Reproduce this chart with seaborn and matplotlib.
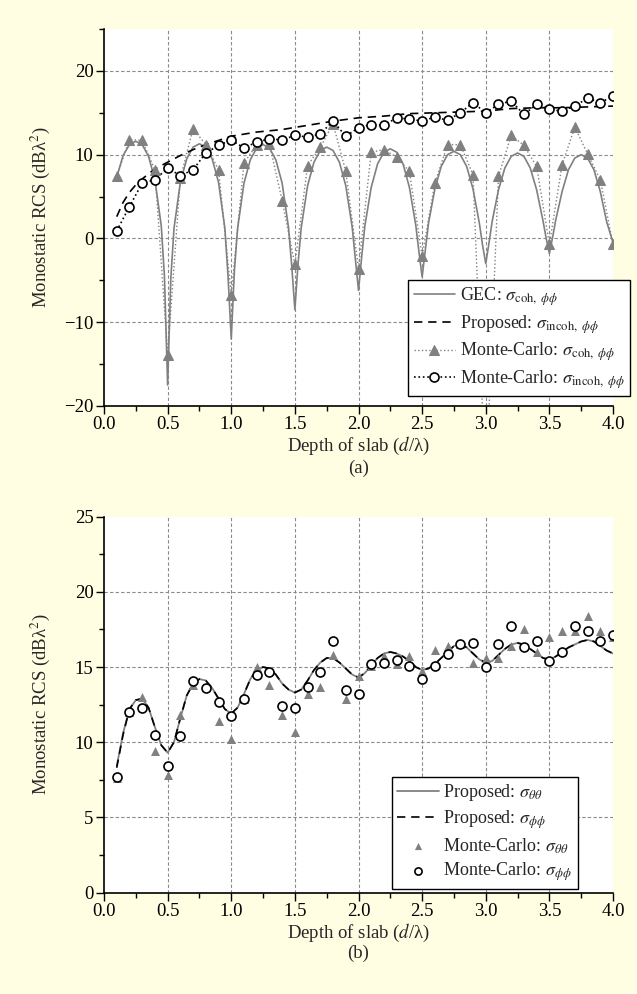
import numpy as np
import pandas as pd
import matplotlib
matplotlib.use('Agg')
import matplotlib.pyplot as plt
from matplotlib.ticker import MultipleLocator, FormatStrFormatter
import seaborn as sns

# ---------------- data: panel (a) ----------------
gec_d = [0.10, 0.15, 0.20, 0.25, 0.30, 0.35, 0.40, 0.45, 0.475, 0.50,
         0.525, 0.55, 0.60, 0.65, 0.70, 0.75, 0.80, 0.85, 0.90, 0.95, 0.975, 1.00,
         1.025, 1.05, 1.10, 1.15, 1.20, 1.25, 1.30, 1.35, 1.40, 1.45, 1.475, 1.50,
         1.525, 1.55, 1.60, 1.65, 1.70, 1.75, 1.80, 1.85, 1.90, 1.95, 1.975, 2.00,
         2.025, 2.05, 2.10, 2.15, 2.20, 2.25, 2.30, 2.35, 2.40, 2.45, 2.475, 2.50,
         2.525, 2.55, 2.60, 2.65, 2.70, 2.75, 2.80, 2.85, 2.90, 2.95, 2.975, 3.00,
         3.025, 3.05, 3.10, 3.15, 3.20, 3.25, 3.30, 3.35, 3.40, 3.45, 3.475, 3.50,
         3.525, 3.55, 3.60, 3.65, 3.70, 3.75, 3.80, 3.85, 3.90, 3.95, 4.00]
gec_coh = [7.3, 9.9, 11.2, 11.6, 11.2, 9.8, 7.0, 1.5, -4.5, -17.5,
           -4.8, 1.2, 6.7, 9.5, 10.9, 11.3, 10.9, 9.5, 6.7, 1.2, -4.6, -12.0,
           -3.8, 1.2, 6.6, 9.4, 10.8, 11.2, 10.8, 9.4, 6.6, 1.3, -3.2, -8.5,
           -3.0, 1.3, 6.3, 9.1, 10.5, 10.9, 10.5, 9.1, 6.3, 1.4, -2.4, -6.2,
           -2.2, 1.5, 6.1, 8.9, 10.3, 10.7, 10.3, 8.9, 6.1, 1.6, -1.6, -4.6,
           -1.4, 1.8, 5.9, 8.6, 10.0, 10.4, 10.0, 8.6, 5.9, 1.8, -0.8, -3.0,
           -0.6, 2.0, 5.8, 8.4, 9.8, 10.2, 9.8, 8.4, 5.8, 2.1, 0.0, -1.8,
           0.1, 2.2, 5.6, 8.2, 9.6, 10.0, 9.6, 8.2, 5.6, 2.0, -0.5]

prop_d = [0.10, 0.15, 0.20, 0.25, 0.30, 0.40, 0.50, 0.60, 0.70, 0.80, 0.90, 1.00,
          1.20, 1.40, 1.60, 1.80, 2.00, 2.20, 2.40, 2.60, 2.80, 3.00, 3.20, 3.40,
          3.60, 3.80, 4.00]
prop_incoh = [2.6, 4.3, 5.5, 6.4, 7.1, 8.3, 9.1, 9.9, 10.6, 11.2, 11.7, 12.2,
              12.7, 13.0, 13.5, 14.0, 14.4, 14.6, 14.9, 15.0, 15.1, 15.2, 15.5, 15.6,
              15.6, 15.7, 15.8]

mc_d = [0.1, 0.2, 0.3, 0.4, 0.5, 0.6, 0.7, 0.8, 0.9, 1.0,
        1.1, 1.2, 1.3, 1.4, 1.5, 1.6, 1.7, 1.8, 1.9, 2.0,
        2.1, 2.2, 2.3, 2.4, 2.5, 2.6, 2.7, 2.8, 2.9, 3.0,
        3.1, 3.2, 3.3, 3.4, 3.5, 3.6, 3.7, 3.8, 3.9, 4.0]
mc_coh = [7.4, 11.8, 11.7, 8.2, -13.9, 7.2, 13.1, 11.2, 8.2, -6.7,
          9.0, 11.2, 11.3, 4.5, -3.1, 8.7, 10.9, 13.7, 8.0, -3.6,
          10.3, 10.6, 9.7, 8.0, -2.1, 6.6, 11.2, 11.2, 7.6, -30.0,
          7.4, 12.3, 11.1, 8.6, -0.7, 8.8, 13.3, 10.1, 7.0, -0.7]
mc_incoh = [0.9, 3.8, 6.6, 7.0, 8.4, 7.5, 8.2, 10.2, 11.1, 11.75,
            10.8, 11.5, 11.9, 11.75, 12.3, 12.1, 12.5, 14.0, 12.2, 13.2,
            13.6, 13.5, 14.4, 14.25, 14.0, 14.5, 14.1, 15.0, 16.2, 15.0,
            16.0, 16.4, 14.8, 16.0, 15.4, 15.2, 15.8, 16.75, 16.2, 17.0]

# ---------------- data: panel (b) ----------------
pb_d = [0.10, 0.15, 0.20, 0.25, 0.30, 0.35, 0.40, 0.45, 0.50, 0.55,
        0.60, 0.65, 0.70, 0.75, 0.80, 0.85, 0.90, 0.95, 1.00, 1.05,
        1.10, 1.15, 1.20, 1.25, 1.30, 1.35, 1.40, 1.45, 1.50, 1.55,
        1.60, 1.65, 1.70, 1.75, 1.80, 1.85, 1.90, 1.95, 2.00, 2.05,
        2.10, 2.15, 2.20, 2.25, 2.30, 2.35, 2.40, 2.45, 2.50, 2.55,
        2.60, 2.65, 2.70, 2.75, 2.80, 2.85, 2.90, 2.95, 3.00, 3.05,
        3.10, 3.15, 3.20, 3.25, 3.30, 3.35, 3.40, 3.45, 3.50, 3.55,
        3.60, 3.65, 3.70, 3.75, 3.80, 3.85, 3.90, 3.95, 4.00]
prop_tt = [8.4, 10.6, 12.2, 12.8, 12.9, 12.3, 11.0, 9.8, 9.3, 10.0,
           11.6, 13.1, 13.9, 14.2, 14.1, 13.6, 12.9, 12.2, 11.9, 12.3,
           13.2, 14.2, 14.8, 15.0, 14.9, 14.5, 13.9, 13.5, 13.3, 13.5,
           14.1, 14.8, 15.3, 15.6, 15.6, 15.3, 14.9, 14.5, 14.3, 14.6,
           15.1, 15.6, 15.9, 16.0, 15.9, 15.7, 15.4, 15.0, 14.8, 14.9,
           15.2, 15.6, 16.0, 16.4, 16.5, 16.3, 15.9, 15.5, 15.3, 15.4,
           15.8, 16.2, 16.5, 16.6, 16.5, 16.2, 15.9, 15.6, 15.5, 15.7,
           16.0, 16.3, 16.5, 16.7, 16.8, 16.7, 16.4, 16.1, 15.9]
prop_pp = [8.3, 10.5, 12.2, 12.8, 12.9, 12.3, 11.0, 9.8, 9.3, 10.0,
           11.6, 13.1, 13.9, 14.2, 14.1, 13.6, 12.9, 12.2, 11.9, 12.3,
           13.2, 14.2, 14.8, 15.0, 14.9, 14.5, 13.9, 13.5, 13.3, 13.5,
           14.1, 14.8, 15.3, 15.6, 15.6, 15.3, 14.9, 14.5, 14.3, 14.6,
           15.1, 15.6, 15.9, 16.0, 15.9, 15.7, 15.4, 15.0, 14.8, 14.9,
           15.2, 15.6, 16.0, 16.4, 16.5, 16.3, 15.9, 15.5, 15.3, 15.4,
           15.8, 16.2, 16.5, 16.6, 16.5, 16.2, 15.9, 15.6, 15.5, 15.7,
           16.0, 16.3, 16.5, 16.7, 16.8, 16.7, 16.4, 16.1, 15.9]
mc_tt = [7.6, 12.0, 13.0, 9.4, 7.8, 11.8, 13.8, 13.7, 11.4, 10.2,
         12.9, 15.0, 13.8, 11.8, 10.7, 13.2, 13.7, 15.8, 12.85, 14.4,
         15.1, 15.7, 15.2, 15.7, 14.75, 16.15, 16.4, 16.5, 15.3, 15.6,
         15.6, 16.4, 17.5, 16.0, 17.0, 17.4, 17.4, 18.4, 17.4, 17.0]
mc_pp = [7.7, 12.0, 12.3, 10.5, 8.4, 10.4, 14.1, 13.6, 12.7, 11.75,
         12.85, 14.5, 14.7, 12.4, 12.3, 13.7, 14.7, 16.7, 13.5, 13.2,
         15.2, 15.3, 15.5, 15.1, 14.2, 15.1, 15.85, 16.5, 16.6, 15.0,
         16.5, 17.7, 16.3, 16.7, 15.4, 16.0, 17.7, 17.4, 16.7, 17.1]

# ---------------- style ----------------
sns.set_style('ticks')
plt.rcParams['font.family'] = ['Liberation Serif', 'DejaVu Serif']
plt.rcParams['mathtext.fontset'] = 'stix'
plt.rcParams['font.size'] = 13.5
plt.rcParams['axes.unicode_minus'] = True

FS = 13.5
LFS = 13
BG = '#FFFDE2'
GRAY = '#808080'
W, H = 637, 994
fig = plt.figure(figsize=(W / 100, H / 100), dpi=100, facecolor=BG)


def axes_px(l, t, r, b):
    return fig.add_axes([l / W, 1 - b / H, (r - l) / W, (b - t) / H])


def style(ax, ylim, ymaj, ymin, hpx):
    ax.set_facecolor('white')
    ax.set_xlim(0, 4)
    ax.set_ylim(*ylim)
    ax.xaxis.set_major_locator(MultipleLocator(0.5))
    ax.xaxis.set_minor_locator(MultipleLocator(0.25))
    ax.yaxis.set_major_locator(MultipleLocator(ymaj))
    ax.yaxis.set_minor_locator(MultipleLocator(ymin))
    ax.xaxis.set_major_formatter(FormatStrFormatter('%.1f'))
    for s in ['top', 'right']:
        ax.spines[s].set_visible(False)
    for s in ['left', 'bottom']:
        ax.spines[s].set_color('black')
        ax.spines[s].set_linewidth(1.2)
    ax.tick_params(which='major', direction='out', length=5.5, width=1.0,
                   colors='black', labelsize=FS, pad=2)
    ax.tick_params(which='minor', direction='out', length=3.5, width=1.0,
                   colors='black')
    lo, hi = ax.get_xlim()
    for t in ax.get_xticks():
        if lo < t < hi:
            ax.axvline(t, color='#8a8a8a', lw=0.8, ls=(0, (3, 2)), zorder=0.5)
    lo, hi = ax.get_ylim()
    for t in ax.get_yticks():
        if lo < t < hi:
            ax.axhline(t, color='#8a8a8a', lw=0.8, ls=(0, (3, 2)), zorder=0.5)
    ax.set_xlabel('Depth of slab ($d$/λ)', fontsize=FS)
    ax.xaxis.set_label_coords(0.5, -40 / hpx)
    ax.xaxis.label.set_va('center')
    ax.set_ylabel('Monostatic RCS (dBλ$^{2}$)', fontsize=FS)
    ax.yaxis.set_label_coords(-0.126, 0.5)
    ax.yaxis.label.set_va('center')


# ---------------- panel (a) ----------------
ax1 = axes_px(104, 29, 613, 406)
sns.lineplot(x=gec_d, y=gec_coh, ax=ax1, color=GRAY, lw=1.2, sort=False,
             estimator=None, label=r'GEC: $\sigma_{\mathrm{coh},\ \phi\phi}$', zorder=3)
sns.lineplot(x=prop_d, y=prop_incoh, ax=ax1, color='black', lw=1.2,
             linestyle=(0, (5, 3.5)), sort=False, estimator=None,
             label=r'Proposed: $\sigma_{\mathrm{incoh},\ \phi\phi}$', zorder=3)
sns.lineplot(x=mc_d, y=mc_coh, ax=ax1, color=GRAY, lw=1.0, linestyle=':',
             marker='^', markersize=6.5, markeredgecolor=GRAY, markerfacecolor=GRAY,
             sort=False, estimator=None,
             label=r'Monte-Carlo: $\sigma_{\mathrm{coh},\ \phi\phi}$', zorder=4)
sns.lineplot(x=mc_d, y=mc_incoh, ax=ax1, color='black', lw=1.2, linestyle=':',
             marker='o', markersize=6.5, markeredgecolor='black', markerfacecolor='white',
             markeredgewidth=1.2, sort=False, estimator=None,
             label=r'Monte-Carlo: $\sigma_{\mathrm{incoh},\ \phi\phi}$', zorder=5)
style(ax1, (-20, 25), 10, 5, 377)
leg1 = ax1.legend(loc='upper right', bbox_to_anchor=(630 / W, 1 - 280 / H),
                  bbox_transform=fig.transFigure, frameon=True, fancybox=False,
                  edgecolor='black', framealpha=1, facecolor='white',
                  handlelength=2.3, borderpad=0.3, labelspacing=0.28,
                  handletextpad=0.25, borderaxespad=0, fontsize=LFS)
leg1.get_frame().set_linewidth(1.0)
leg1.set_zorder(10)

# ---------------- panel (b) ----------------
ax2 = axes_px(104, 516.7, 613, 892.5)
sns.lineplot(x=pb_d, y=prop_tt, ax=ax2, color=GRAY, lw=1.3, sort=False,
             estimator=None, label=r'Proposed: $\sigma_{\theta\theta}$', zorder=3)
sns.lineplot(x=pb_d, y=prop_pp, ax=ax2, color='black', lw=1.2,
             linestyle=(0, (5, 3.5)), sort=False, estimator=None,
             label=r'Proposed: $\sigma_{\phi\phi}$', zorder=3.5)
sns.scatterplot(x=mc_d, y=mc_tt, ax=ax2, color=GRAY, marker='^', s=42,
                linewidth=0, label=r'Monte-Carlo: $\sigma_{\theta\theta}$', zorder=4)
sns.scatterplot(x=mc_d, y=mc_pp, ax=ax2, facecolor='white', edgecolor='black',
                marker='o', s=42, linewidth=1.2,
                label=r'Monte-Carlo: $\sigma_{\phi\phi}$', zorder=5)
style(ax2, (0, 25), 5, 2.5, 375.8)
leg2 = ax2.legend(loc='upper left', bbox_to_anchor=(392 / W, 1 - 777 / H),
                  bbox_transform=fig.transFigure, frameon=True, fancybox=False,
                  edgecolor='black', framealpha=1, facecolor='white',
                  handlelength=2.3, borderpad=0.3, labelspacing=0.28,
                  handletextpad=0.25, borderaxespad=0, fontsize=LFS,
                  markerscale=0.8)
leg2.get_frame().set_linewidth(1.0)
leg2.set_zorder(10)

fig.text(358.5 / W, 1 - 468 / H, '(a)', ha='center', va='center', fontsize=FS)
fig.text(358.5 / W, 1 - 953 / H, '(b)', ha='center', va='center', fontsize=FS)

fig.savefig('out.png', dpi=100, facecolor=BG)
